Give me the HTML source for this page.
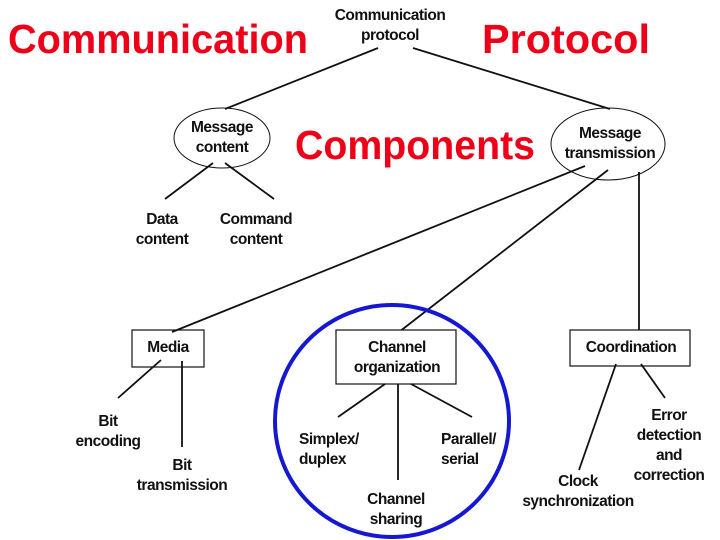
<!DOCTYPE html>
<html><head><meta charset="utf-8"><style>
html,body{margin:0;padding:0;background:#fff}
svg{display:block}
.t{font-family:"Liberation Sans Narrow","Liberation Sans",sans-serif;font-weight:bold;font-size:15.5px;letter-spacing:-0.5px;fill:#111;text-anchor:middle;dominant-baseline:middle}
.r{font-family:"Liberation Sans",sans-serif;font-weight:bold;fill:#ee0018;dominant-baseline:alphabetic}
line{stroke:#111;stroke-width:1.8}
</style></head><body>
<svg width="720" height="540" viewBox="0 0 720 540" xmlns="http://www.w3.org/2000/svg">
<text class="r" x="8" y="53" font-size="41" textLength="300" lengthAdjust="spacingAndGlyphs">Communication</text>
<text class="r" x="482" y="53" font-size="41" textLength="168" lengthAdjust="spacingAndGlyphs">Protocol</text>
<text class="r" x="295" y="159" font-size="41" textLength="240" lengthAdjust="spacingAndGlyphs">Components</text>

<text class="t" x="390" y="16" font-size="14">Communication</text>
<text class="t" x="390" y="36" font-size="14">protocol</text>
<line x1="378" y1="48" x2="225" y2="109"/>
<line x1="413" y1="48" x2="610" y2="109"/>

<ellipse cx="222" cy="138" rx="48" ry="30" fill="none" stroke="#111" stroke-width="1"/>
<text class="t" x="222" y="128">Message</text>
<text class="t" x="222" y="148">content</text>
<ellipse cx="608" cy="144" rx="57" ry="36" fill="none" stroke="#111" stroke-width="1"/>
<text class="t" x="610" y="134">Message</text>
<text class="t" x="610" y="154">transmission</text>

<line x1="213" y1="163" x2="165" y2="199"/>
<line x1="225" y1="163" x2="274" y2="199"/>
<text class="t" x="162" y="220">Data</text>
<text class="t" x="162" y="240">content</text>
<text class="t" x="256" y="220">Command</text>
<text class="t" x="256" y="240">content</text>

<line x1="585" y1="166" x2="172" y2="332"/>
<line x1="608" y1="170" x2="399" y2="332"/>
<line x1="639" y1="172" x2="639" y2="330"/>

<rect x="132" y="330" width="72" height="37" fill="none" stroke="#111" stroke-width="1.2"/>
<text class="t" x="168" y="348">Media</text>
<line x1="161" y1="360" x2="118" y2="398"/>
<line x1="182" y1="361" x2="182" y2="447"/>
<text class="t" x="108" y="422">Bit</text>
<text class="t" x="108" y="442">encoding</text>
<text class="t" x="182" y="466">Bit</text>
<text class="t" x="182" y="486">transmission</text>

<ellipse cx="392" cy="421" rx="117" ry="116" fill="none" stroke="#1418d0" stroke-width="4"/>
<rect x="336" y="330" width="120" height="54" fill="#fff" stroke="#111" stroke-width="1.2"/>
<text class="t" x="397" y="348">Channel</text>
<text class="t" x="397" y="368">organization</text>
<line x1="385" y1="384" x2="338" y2="417"/>
<line x1="398" y1="384" x2="398" y2="480"/>
<line x1="411" y1="384" x2="472" y2="417"/>
<text class="t" x="299" y="440" style="text-anchor:start">Simplex/</text>
<text class="t" x="299" y="460" style="text-anchor:start">duplex</text>
<text class="t" x="441" y="440" style="text-anchor:start">Parallel/</text>
<text class="t" x="441" y="460" style="text-anchor:start">serial</text>
<text class="t" x="396" y="500">Channel</text>
<text class="t" x="396" y="520">sharing</text>

<rect x="570" y="330" width="120" height="36" fill="none" stroke="#111" stroke-width="1.2"/>
<text class="t" x="631" y="348">Coordination</text>
<line x1="616" y1="364" x2="579" y2="470"/>
<line x1="641" y1="364" x2="665" y2="398"/>
<text class="t" x="578" y="482">Clock</text>
<text class="t" x="578" y="502">synchronization</text>
<text class="t" x="669" y="416">Error</text>
<text class="t" x="669" y="436">detection</text>
<text class="t" x="669" y="456">and</text>
<text class="t" x="669" y="476">correction</text>
</svg>
</body></html>
